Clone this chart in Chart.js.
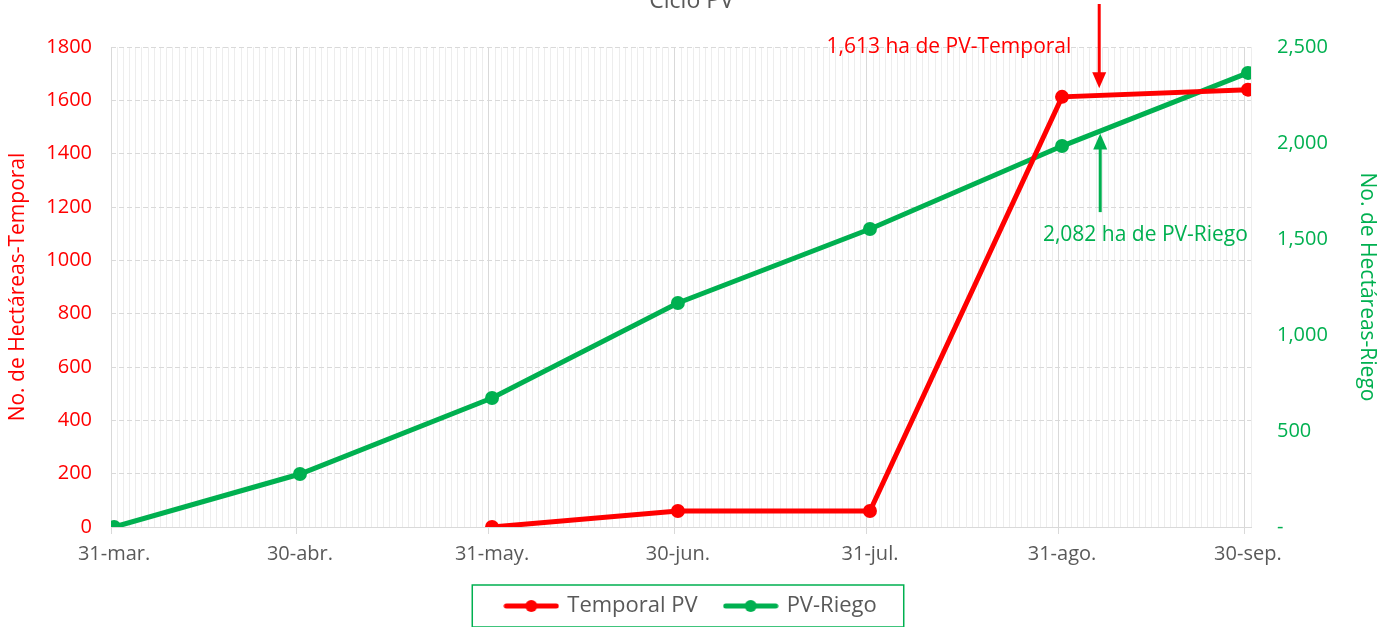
<!DOCTYPE html>
<html>
<head>
<meta charset="utf-8">
<script src="https://cdn.jsdelivr.net/npm/chart.js@4.4.1/dist/chart.umd.min.js"></script>
<style>
  html, body { margin: 0; padding: 0; background: #fff; }
  #wrap { width: 1383px; height: 627px; position: relative; }
</style>
</head>
<body>
<div id="wrap"><canvas id="cicloChart"></canvas></div>
<script>
// days counted from 31-mar (day 0)
const monthEndDays = [0, 30, 61, 91, 122, 153, 183];
const monthEndLabels = ['31-mar.', '30-abr.', '31-may.', '30-jun.', '31-jul.', '31-ago.', '30-sep.'];

const temporalDays = [61, 91, 122, 153, 183];
const temporalValues = [0, 60, 60, 1613, 1640];

const riegoDays = [0, 30, 61, 91, 122, 153, 183];
const riegoValues = [0, 276, 672, 1167, 1552, 1984, 2365];

const RED = '#FF0000';
const GREEN = '#00B050';
const GREY_TEXT = '#595959';
const FONT = "'Open Sans', sans-serif";

Chart.defaults.font.family = FONT;

// legend icon: thick line with a dot in the middle
function legendIcon(color) {
  const c = document.createElement('canvas');
  c.width = 56; c.height = 14;
  const g = c.getContext('2d');
  g.strokeStyle = color;
  g.lineWidth = 5;
  g.lineCap = 'round';
  g.beginPath(); g.moveTo(3, 7); g.lineTo(53, 7); g.stroke();
  g.fillStyle = color;
  g.beginPath(); g.arc(28, 7, 6, 0, Math.PI * 2); g.fill();
  return c;
}
const icons = [legendIcon(RED), legendIcon(GREEN)];

// title (cut off at the top) + arrows with notes
const notesPlugin = {
  id: 'notes',
  afterDraw(chart) {
    const ctx = chart.ctx;
    const x = chart.scales.x, yl = chart.scales.y, yr = chart.scales.y1;
    ctx.save();
    ctx.fillStyle = GREY_TEXT;
    ctx.font = "23px " + FONT;
    ctx.textAlign = 'center';
    ctx.textBaseline = 'alphabetic';
    ctx.fillText('Ciclo PV', chart.width / 2, 8);

    const ax = x.getPixelForValue(159);
    // red arrow pointing down
    drawArrow(ctx, ax, 4, yl.getPixelForValue(1645), RED);
    // green arrow pointing up
    drawArrow(ctx, ax + 1, yr.getPixelForValue(1640), yr.getPixelForValue(2050), GREEN);

    ctx.font = "21px " + FONT;
    ctx.textAlign = 'right';
    ctx.textBaseline = 'middle';
    ctx.fillStyle = RED;
    ctx.fillText('1,613 ha de PV-Temporal', x.getPixelForValue(154.5), yl.getPixelForValue(1800));
    ctx.fillStyle = GREEN;
    ctx.fillText('2,082 ha de PV-Riego', x.getPixelForValue(183), yr.getPixelForValue(1520));
    ctx.restore();
  }
};

function drawArrow(ctx, x, yFrom, yTip, color) {
  const dir = yTip > yFrom ? 1 : -1;
  ctx.strokeStyle = color;
  ctx.fillStyle = color;
  ctx.lineWidth = 3;
  ctx.beginPath();
  ctx.moveTo(x, yFrom);
  ctx.lineTo(x, yTip - dir * 14);
  ctx.stroke();
  ctx.beginPath();
  ctx.moveTo(x - 7, yTip - dir * 16);
  ctx.lineTo(x + 7, yTip - dir * 16);
  ctx.lineTo(x, yTip);
  ctx.closePath();
  ctx.fill();
}

// border around the legend, and a fixed legend height
const legendBoxPlugin = {
  id: 'legendBox',
  beforeInit(chart) {
    const fit = chart.legend.fit;
    chart.legend.fit = function () {
      fit.call(this);
      this.height = 60;
    };
  },
  afterDraw(chart) {
    const boxes = chart.legend.legendHitBoxes;
    if (!boxes || !boxes.length) return;
    const first = boxes[0], last = boxes[boxes.length - 1];
    const cy = first.top + first.height / 2;
    const left = first.left - 34;
    const right = last.left + last.width + 27;
    const ctx = chart.ctx;
    ctx.save();
    ctx.strokeStyle = GREEN;
    ctx.lineWidth = 1.5;
    ctx.strokeRect(left, cy - 21, right - left, 42);
    ctx.restore();
  }
};

const ctx = document.getElementById('cicloChart').getContext('2d');
new Chart(ctx, {
  type: 'line',
  data: {
    datasets: [{
      label: 'Temporal PV',
      data: temporalDays.map((d, i) => ({ x: d, y: temporalValues[i] })),
      borderColor: RED,
      backgroundColor: RED,
      borderWidth: 5,
      pointRadius: 7,
      pointBackgroundColor: RED,
      pointBorderWidth: 0,
      yAxisID: 'y'
    }, {
      label: 'PV-Riego',
      data: riegoDays.map((d, i) => ({ x: d, y: riegoValues[i] })),
      borderColor: GREEN,
      backgroundColor: GREEN,
      borderWidth: 5,
      pointRadius: 7,
      pointBackgroundColor: GREEN,
      pointBorderWidth: 0,
      yAxisID: 'y1'
    }]
  },
  options: {
    responsive: true,
    maintainAspectRatio: false,
    animation: false,
    layout: { padding: { top: 47, left: 0, right: 0, bottom: 0 } },
    plugins: {
      title: { display: false },
      tooltip: { enabled: false },
      legend: {
        position: 'bottom',
        labels: {
          usePointStyle: true,
          pointStyleWidth: 50,
          padding: 28,
          color: GREY_TEXT,
          font: { size: 22 },
          generateLabels(chart) {
            const items = Chart.defaults.plugins.legend.labels.generateLabels(chart);
            items.forEach((it, i) => { it.pointStyle = icons[i]; });
            return items;
          }
        }
      }
    },
    scales: {
      x: {
        type: 'linear',
        min: -0.5,
        max: 183.5,
        afterBuildTicks(scale) {
          const ticks = [];
          for (let d = 0; d <= 183; d++) ticks.push({ value: d });
          scale.ticks = ticks;
        },
        afterFit(scale) { scale.height = 40; },
        grid: {
          offset: true,
          color: c => (c.tick && monthEndDays.includes(c.tick.value)) || c.index === 184 ? '#d9d9d9' : '#ededed',
          tickColor: c => (c.tick && monthEndDays.includes(c.tick.value)) || c.index === 184 ? '#d9d9d9' : 'rgba(0,0,0,0)',
          tickLength: 7,
          lineWidth: 1
        },
        border: { display: true, color: '#d9d9d9' },
        ticks: {
          autoSkip: false,
          maxRotation: 0,
          padding: 8,
          color: GREY_TEXT,
          font: { size: 20 },
          callback: v => {
            const i = monthEndDays.indexOf(v);
            return i >= 0 ? monthEndLabels[i] : '';
          }
        }
      },
      y: {
        position: 'left',
        min: 0,
        max: 1800,
        afterFit(scale) { scale.width = 111; },
        ticks: { stepSize: 200, color: RED, font: { size: 20 }, padding: 19, callback: v => String(v) },
        grid: { color: '#d9d9d9', drawTicks: false },
        border: { display: false, dash: [5, 3] },
        title: { display: true, text: 'No. de Hectáreas-Temporal', color: RED, font: { size: 21 }, padding: { top: 5, bottom: 0 } }
      },
      y1: {
        position: 'right',
        min: 0,
        max: 2500,
        afterFit(scale) { scale.width = 132; },
        ticks: {
          stepSize: 500,
          color: GREEN,
          font: { size: 20 },
          padding: 26,
          callback: v => v === 0 ? '-' : v.toLocaleString('en-US')
        },
        grid: { display: false, drawTicks: false },
        border: { display: false },
        title: { display: true, text: 'No. de Hectáreas-Riego', color: GREEN, font: { size: 21 }, padding: { top: 3, bottom: 3 } }
      }
    }
  },
  plugins: [notesPlugin, legendBoxPlugin]
});
</script>
</body>
</html>
